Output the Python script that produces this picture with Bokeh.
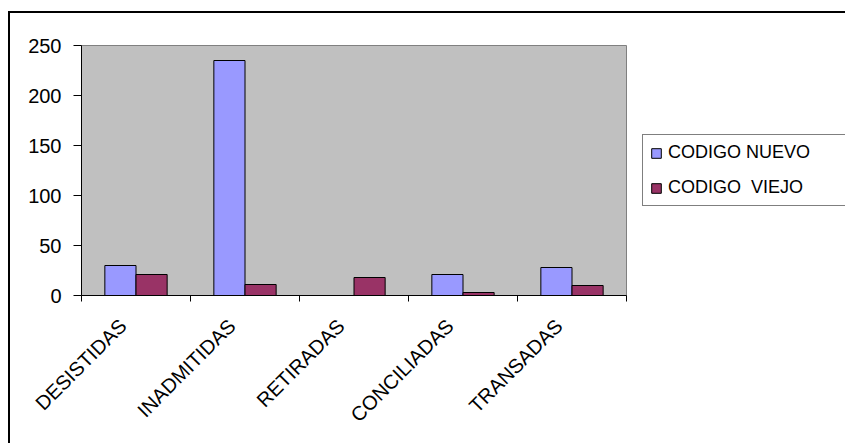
import numpy as np
from bokeh.plotting import figure
from bokeh.models import (Range1d, FixedTicker, Legend, LegendItem, LinearAxis)
from bokeh.embed import file_html
from bokeh.resources import INLINE

# Data
categories = ["DESISTIDAS", "INADMITIDAS", "RETIRADAS", "CONCILIADAS", "TRANSADAS"]
codigo_nuevo = [30, 235, 0, 21, 28]
codigo_viejo = [21, 11, 18, 3, 10]
series_names = ["CODIGO NUEVO", "CODIGO  VIEJO"]
y_ticks = [0, 50, 100, 150, 200, 250]

FONT = "Liberation Sans"
n = len(categories)
centers = np.arange(n) + 0.5
bar_w = 1 / 3.5  # gap width of 150% between groups
label_shift = 0.12  # rotated names sit slightly left of each group centre

p = figure(output_backend="svg", toolbar_location=None,
           x_range=Range1d(0, n), y_range=Range1d(0, 250),
           frame_width=545, frame_height=250,
           min_border_left=71, min_border_top=32, min_border_right=0,
           min_border_bottom=150, x_axis_type=None, y_axis_type=None)
p.margin = (11, 0, 0, 8)
p.styles = {"border-left": "2px solid black", "border-top": "2px solid black"}

p.background_fill_color = "#C0C0C0"
p.border_fill_color = "white"
p.outline_line_color = "#808080"
p.outline_line_width = 1

# Category axis: visible tick marks between groups, names on hidden major ticks
label_pos = [float(c - label_shift) for c in centers]
xaxis = LinearAxis(ticker=FixedTicker(ticks=label_pos, minor_ticks=list(range(n + 1))))
xaxis.major_label_overrides = {pos: lab for pos, lab in zip(label_pos, categories)}
xaxis.major_tick_line_color = None
xaxis.minor_tick_line_color = "black"
xaxis.minor_tick_out = 6
xaxis.minor_tick_in = 0
xaxis.major_label_orientation = np.pi / 4
xaxis.major_label_standoff = 21
xaxis.major_label_text_font = FONT
xaxis.major_label_text_font_size = "20px"
xaxis.major_label_text_color = "black"
xaxis.axis_line_color = "black"
p.add_layout(xaxis, "below")

yaxis = LinearAxis(ticker=FixedTicker(ticks=y_ticks))
yaxis.minor_tick_line_color = None
yaxis.major_tick_out = 8
yaxis.major_tick_in = 0
yaxis.major_label_standoff = 12
yaxis.major_label_text_font = FONT
yaxis.major_label_text_font_size = "20px"
yaxis.major_label_text_color = "black"
yaxis.axis_line_color = "black"
p.add_layout(yaxis, "left")

p.xgrid.visible = False
p.ygrid.ticker = FixedTicker(ticks=y_ticks[1:-1])
p.ygrid.grid_line_color = "black"
p.ygrid.grid_line_width = 1

# Bars
r1 = p.vbar(x=centers - bar_w / 2, top=codigo_nuevo, width=bar_w,
            fill_color="#9999FF", line_color="black", line_width=1)
r2 = p.vbar(x=centers + bar_w / 2, top=codigo_viejo, width=bar_w,
            fill_color="#993366", line_color="black", line_width=1)

legend = Legend(items=[LegendItem(label=series_names[0], renderers=[r1]),
                       LegendItem(label=series_names[1], renderers=[r2])],
                location="center_left", orientation="vertical")
legend.margin = 16
legend.padding = 7
legend.spacing = 14
legend.glyph_width = 12
legend.glyph_height = 12
legend.label_standoff = 6
legend.label_height = 20
legend.label_width = 180
legend.label_text_font = FONT
legend.label_text_font_size = "18px"
legend.label_text_color = "black"
legend.border_line_color = "black"
legend.border_line_width = 1.5
legend.background_fill_color = "white"
p.add_layout(legend, "right")

open("out.html", "w").write(file_html(p, INLINE))
